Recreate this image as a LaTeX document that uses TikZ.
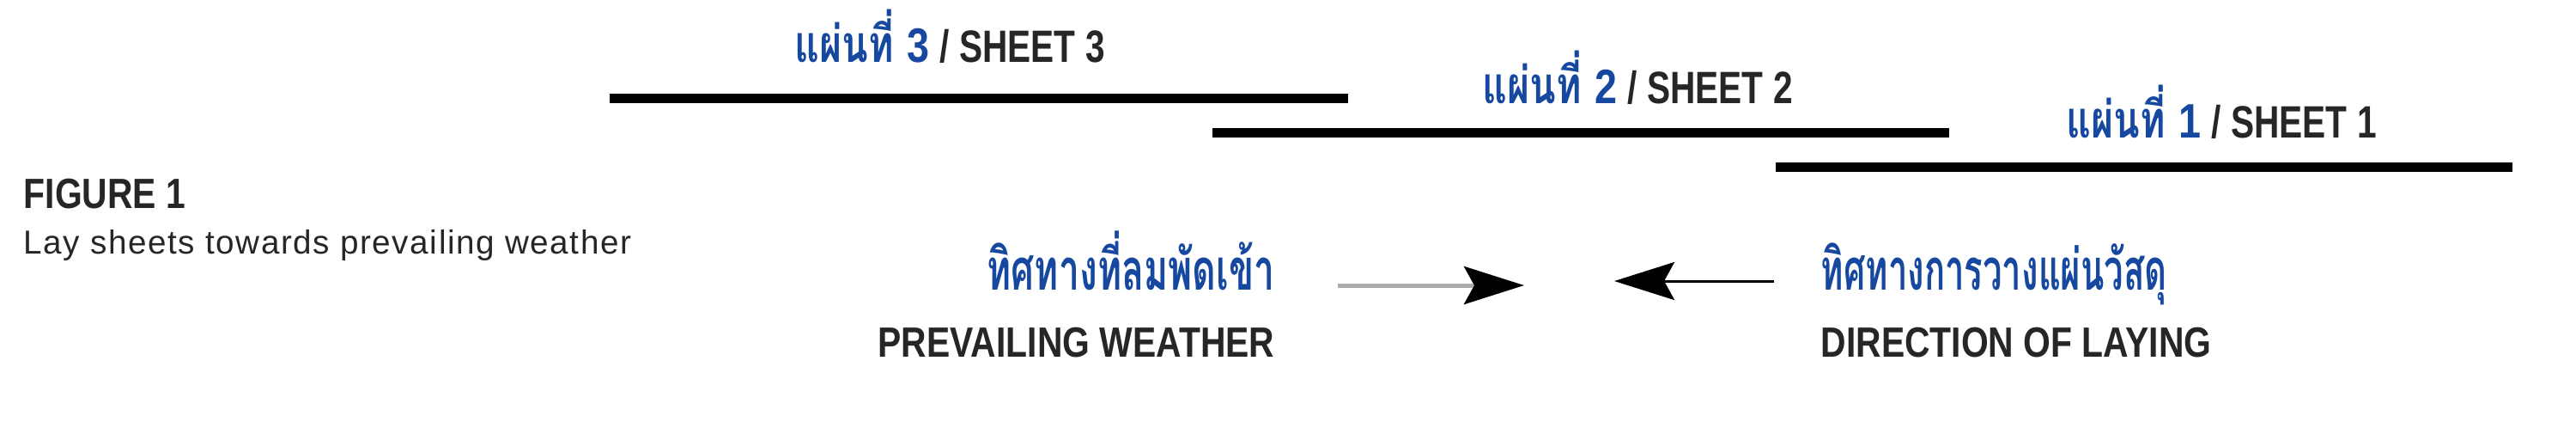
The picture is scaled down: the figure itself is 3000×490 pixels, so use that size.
\documentclass[tikz,border=0pt]{standalone}
\usepackage{fontspec}
\setmainfont{Liberation Sans}
\newfontfamily\capsfont[FakeStretch=0.83]{Liberation Sans}
\newfontfamily\sheetfont[FakeStretch=0.77]{Liberation Sans}
\newfontfamily\notefont[LetterSpace=4]{Liberation Sans}
\newfontfamily\thaifont[Script=Thai,FakeStretch=0.64]{Loma}
\newfontfamily\thainarrowfont[Script=Thai,FakeStretch=0.6]{Loma}
\newfontfamily\thaisheetfont[Script=Thai,FakeStretch=0.75]{Loma}
\usetikzlibrary{arrows.meta}
\definecolor{thaiblue}{RGB}{22,72,160}
\definecolor{inkgrey}{RGB}{38,38,38}
\newcommand{\sheetthai}[1]{{\thaisheetfont\fontsize{17}{19}\selectfont\color{thaiblue}แผ่นที่}\hspace{0.15cm}{\color{thaiblue}\capsfont\fontsize{16}{18}\selectfont #1}\hspace{0.12cm}/\hspace{0.12cm}}

\begin{document}
\begin{tikzpicture}[x=0.01cm,y=-0.01cm,
    sheetline/.style={line width=0.11cm},
    sheetlabel/.style={anchor=base west,inner sep=0pt,text=inkgrey,
        font=\sheetfont\bfseries\fontsize{15}{17}\selectfont},
    thailabel/.style={inner sep=0pt,text=thaiblue,
        font=\thaifont\bfseries\fontsize{19}{22}\selectfont},
    englabel/.style={inner sep=0pt,text=inkgrey,
        font=\capsfont\bfseries\fontsize{14}{16}\selectfont},
    flowtip/.style={-{Stealth[length=0.7cm,width=0.44cm,inset=0.12cm,color=black]}}]
    \useasboundingbox (0,0) rectangle (3000,490);

    % Caption
    \node[anchor=base west,inner sep=0pt,text=inkgrey,
        font=\capsfont\bfseries\fontsize{14}{16}\selectfont] (figtitle) at (27,242) {FIGURE 1};
    \node[anchor=base west,inner sep=0pt,text=inkgrey,
        font=\notefont\fontsize{11}{13}\selectfont] (figtext) at (27,295) {Lay sheets towards prevailing weather};

    % Sheets
    \coordinate (s3a) at (710,114);  \coordinate (s3b) at (1570,114);
    \coordinate (s2a) at (1412,154); \coordinate (s2b) at (2270,154);
    \coordinate (s1a) at (2068,194); \coordinate (s1b) at (2926,194);
    \draw[sheetline] (s3a) -- (s3b);
    \draw[sheetline] (s2a) -- (s2b);
    \draw[sheetline] (s1a) -- (s1b);

    \node[sheetlabel] (sheet3) at (925,72) {\sheetthai{3}SHEET 3};
    \node[sheetlabel] (sheet2) at (1726,120) {\sheetthai{2}SHEET 2};
    \node[sheetlabel] (sheet1) at (2406,160) {\sheetthai{1}SHEET 1};

    % Prevailing weather
    \node[thailabel,anchor=base east] (windthai) at (1485,337) {ทิศทางที่ลมพัดเข้า};
    \node[englabel,anchor=base east] (windeng) at (1485,415) {PREVAILING WEATHER};
    \coordinate (windtail) at (1558,332);
    \coordinate (windtip) at (1775,332);
    \draw[flowtip,gray!65,line width=0.05cm] (windtail) -- (windtip);

    % Direction of laying
    \node[thailabel,anchor=base west,
        font=\thainarrowfont\bfseries\fontsize{19}{22}\selectfont] (laythai) at (2120,337) {ทิศทางการวางแผ่นวัสดุ};
    \node[englabel,anchor=base west] (layeng) at (2120,415) {DIRECTION OF LAYING};
    \coordinate (laytail) at (2066,327);
    \coordinate (laytip) at (1880,327);
    \draw[flowtip,line width=0.03cm] (laytail) -- (laytip);

\end{tikzpicture}
\end{document}
